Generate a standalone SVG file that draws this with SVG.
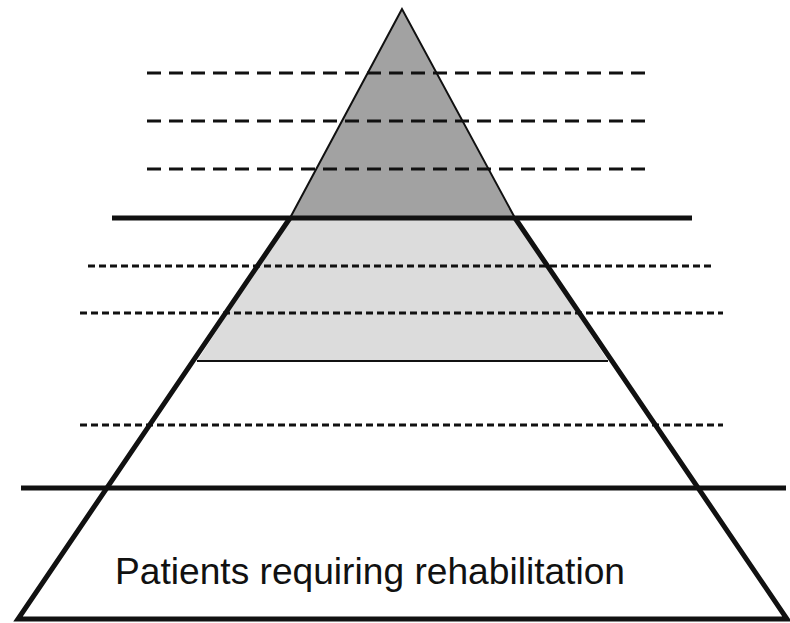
<svg xmlns="http://www.w3.org/2000/svg" width="790" height="623" viewBox="0 0 790 623">
  <style>
    .thick { stroke: #111; stroke-width: 5; fill: none; stroke-linecap: butt; }
    .thin { stroke: #111; stroke-width: 2; fill: none; }
    .longdash { stroke: #111; stroke-width: 3; stroke-dasharray: 14 8; fill: none; }
    .shortdash { stroke: #111; stroke-width: 3; stroke-dasharray: 7 4; fill: none; }
    .label { font-family: "Liberation Sans", Arial, sans-serif; font-size: 37px; fill: #111; }
  </style>
  <rect width="790" height="623" fill="#ffffff"/>
  <g id="level-top">
    <polygon points="402,9 290,218 515,218" fill="#a2a2a2" stroke="#111" stroke-width="2"/>
  </g>
  <g id="level-middle">
    <polygon points="290,218 515,218 608,361 197,361" fill="#dcdcdc" stroke="none"/>
    <line class="thin" x1="197" y1="361" x2="608" y2="361"/>
  </g>
  <g id="level-base">
    <text class="label" x="115" y="584" textLength="510" lengthAdjust="spacingAndGlyphs">Patients requiring rehabilitation</text>
  </g>
  <g id="lines">
    <line class="longdash" x1="147" y1="73" x2="652" y2="73"/>
    <line class="longdash" x1="147" y1="121" x2="652" y2="121"/>
    <line class="longdash" x1="147" y1="169" x2="652" y2="169"/>
    <line class="shortdash" x1="88" y1="266" x2="715" y2="266"/>
    <line class="shortdash" x1="80" y1="313" x2="723" y2="313"/>
    <line class="shortdash" x1="80" y1="425" x2="723" y2="425"/>
    <line class="thick" x1="112" y1="218" x2="692" y2="218"/>
    <line class="thick" x1="21" y1="488" x2="786" y2="488"/>
    <polyline class="thick" points="290,218 18,619 787,619 515,218"/>
  </g>
</svg>
